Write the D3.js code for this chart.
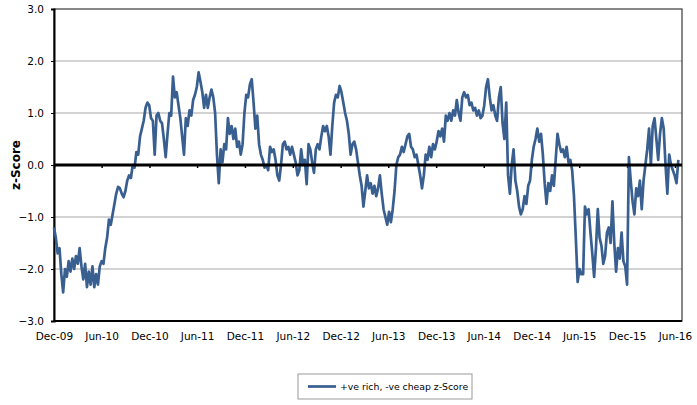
<!DOCTYPE html>
<html>
<head>
<meta charset="utf-8">
<script src="https://cdn.jsdelivr.net/npm/d3@7"></script>
<style>
  html, body { margin: 0; padding: 0; background: #fff; }
  svg { display: block; }
  text { font-family: Tahoma, "DejaVu Sans", Verdana, sans-serif; fill: #000; }
</style>
</head>
<body>
<svg id="chart" width="697" height="405"></svg>
<script>
// ---- Data (weekly z-score readings, starting 2009-12-01) ----
const startDate = "2009-12-01";
const seriesName = "+ve rich, -ve cheap z-Score";
const zScore = [
  // Dec-09 .. Jun-10
  -1.2, -1.4, -1.7, -1.6, -2.1, -2.45, -2.0, -2.15, -1.85, -2.05, -1.8, -2.0, -1.75,
  -1.9, -1.6, -1.95, -2.2, -1.9, -2.35, -2.05, -2.3, -1.95, -2.35, -2.1, -2.3, -1.95,
  // Jun-10 .. Dec-10
  -1.85, -1.9, -1.6, -1.4, -1.05, -1.15, -0.95, -0.75, -0.55, -0.42, -0.45, -0.55, -0.62,
  -0.5, -0.3, -0.2, -0.25, 0.0, -0.05, 0.25, 0.2, 0.55, 0.7, 0.85, 1.1, 1.2,
  // Dec-10 .. Jun-11
  1.15, 0.9, 0.85, 0.2, 0.95, 1.0, 0.85, 0.8, 0.5, 0.15, 0.6, 1.0, 0.95,
  1.7, 1.3, 1.4, 1.15, 0.9, 0.55, 0.2, 0.9, 0.75, 1.05, 0.95, 1.25, 1.35,
  // Jun-11 .. Dec-11
  1.5, 1.78, 1.6, 1.4, 1.1, 1.35, 1.1, 1.3, 1.45, 1.3, 1.0, 0.2, -0.35,
  0.3, 0.05, 0.4, 0.3, 0.9, 0.6, 0.75, 0.5, 0.7, 0.35, 0.45, 0.2, 0.4,
  // Dec-11 .. Jun-12
  1.0, 1.35, 1.3, 1.55, 1.65, 1.2, 0.7, 0.95, 0.4, 0.2, 0.1, -0.05, 0.0,
  -0.1, 0.35, 0.25, 0.3, 0.1, -0.2, -0.3, 0.0, 0.4, 0.45, 0.3, 0.35, 0.2,
  // Jun-12 .. Dec-12
  0.35, 0.2, 0.05, -0.2, -0.1, 0.3, 0.0, 0.1, -0.37, 0.4, 0.3, 0.05, -0.15,
  0.3, 0.4, 0.3, 0.55, 0.75, 0.65, 0.75, 0.55, 0.2, 0.75, 1.2, 1.35, 1.3,
  // Dec-12 .. Jun-13
  1.52, 1.4, 1.2, 1.0, 0.85, 0.6, 0.2, 0.4, 0.45, 0.3, 0.05, -0.2, -0.4,
  -0.8, -0.5, -0.2, -0.45, -0.35, -0.55, -0.4, -0.6, -0.45, -0.2, -0.55, -0.85, -1.0,
  // Jun-13 .. Dec-13
  -1.15, -0.9, -1.1, -0.85, -0.5, 0.0, 0.15, 0.2, 0.35, 0.25, 0.4, 0.55, 0.6,
  0.35, 0.3, 0.15, 0.2, 0.0, -0.2, -0.45, -0.2, 0.2, 0.1, 0.35, 0.15, 0.4,
  // Dec-13 .. Jun-14
  0.3, 0.45, 0.65, 0.55, 0.7, 0.45, 0.95, 0.85, 1.0, 0.85, 1.05, 0.95, 1.25,
  1.0, 0.85, 1.3, 1.4, 1.3, 1.35, 1.15, 1.2, 1.05, 1.1, 0.95, 1.05, 0.9,
  // Jun-14 .. Dec-14
  0.95, 1.15, 1.5, 1.65, 1.3, 1.05, 1.15, 0.95, 0.85, 1.3, 1.5, 0.8, 0.5,
  1.2, -0.2, -0.55, 0.0, 0.3, -0.3, -0.5, -0.8, -0.95, -0.85, -0.6, -0.75, -0.4,
  // Dec-14 .. Jun-15
  -0.3, 0.1, 0.35, 0.5, 0.7, 0.45, 0.6, 0.2, -0.35, -0.75, -0.35, -0.5, -0.2,
  -0.4, 0.1, 0.6, 0.4, 0.25, 0.3, 0.15, 0.35, 0.05, 0.1, -0.1, -0.6, -1.4,
  // Jun-15 .. Dec-15
  -2.25, -2.0, -2.1, -2.1, -0.8, -0.95, -0.85, -1.3, -1.7, -2.15, -1.6, -0.85, -1.4,
  -1.55, -1.9, -1.75, -1.3, -1.2, -1.5, -0.7, -1.5, -2.05, -1.6, -1.8, -1.3, -1.85,
  // Dec-15 .. Jun-16
  -1.95, -2.3, 0.15, -0.3, -0.7, -0.95, -0.45, -0.6, -0.3, -0.85, -0.3, 0.0, 0.3,
  0.7, 0.0, 0.75, 0.9, 0.5, 0.1, 0.6, 0.9, 0.7, 0.0, -0.55, 0.2, 0.0,
  // Jun-16 ..
  -0.1, -0.2, -0.35, 0.1
];
const xTickLabels = ["Dec-09","Jun-10","Dec-10","Jun-11","Dec-11","Jun-12","Dec-12",
                     "Jun-13","Dec-13","Jun-14","Dec-14","Jun-15","Dec-15","Jun-16"];
const yTicks = [-3, -2, -1, 0, 1, 2, 3];
const yTitle = "z-Score";

// ---- Build ----
(function () {
const parse = d3.timeParse("%Y-%m-%d");
const t0 = parse(startDate);
const data = zScore.map((v, i) => ({ date: d3.timeDay.offset(t0, i * 7), value: v }));
const tickDates = xTickLabels.map(s => d3.timeParse("%b-%y")(s));

const pL = 54, pR = 682, pT = 9, pB = 321;
const x = d3.scaleTime().domain([t0, parse("2016-06-28")]).range([pL, pR]);
const y = d3.scaleLinear().domain([-3, 3]).range([pB, pT]);

const svg = d3.select("#chart");

// gridlines
svg.append("g").selectAll("line")
  .data(yTicks.filter(d => d !== 0 && Math.abs(d) !== 3))
  .join("line")
  .attr("x1", pL).attr("x2", pR)
  .attr("y1", d => y(d)).attr("y2", d => y(d))
  .attr("stroke", "#a6a6a6").attr("stroke-width", 1);

// plot border
svg.append("rect")
  .attr("x", pL).attr("y", pT)
  .attr("width", pR - pL).attr("height", pB - pT)
  .attr("fill", "none").attr("stroke", "#3a3a3a").attr("stroke-width", 1.2);

// y axis (left)
const yAxis = d3.axisLeft(y).tickValues(yTicks).tickFormat(d3.format(".1f")).tickSize(3).tickPadding(7);
const gy = svg.append("g").attr("transform", `translate(${pL},0)`).call(yAxis);
gy.select(".domain").attr("stroke", "#000").attr("stroke-width", 2);
gy.selectAll(".tick line").attr("stroke", "#000");
gy.selectAll("text").style("font-size", "10.5px").style("font-family", 'Tahoma, "DejaVu Sans", sans-serif').attr("fill", "#000");

// bottom border line
svg.append("line").attr("x1", pL).attr("x2", pR).attr("y1", pB).attr("y2", pB)
  .attr("stroke", "#000").attr("stroke-width", 2);

// x axis on the zero line (ticks only), labels at the bottom
const xAxisZero = d3.axisBottom(x).tickValues(tickDates).tickFormat("").tickSize(3).tickSizeOuter(0);
const gx0 = svg.append("g").attr("transform", `translate(0,${y(0)})`).call(xAxisZero);
gx0.select(".domain").remove();
gx0.selectAll(".tick line").attr("stroke", "#000").attr("stroke-width", 1.5);

const xAxisLabels = d3.axisBottom(x).tickValues(tickDates)
  .tickFormat((d, i) => xTickLabels[i]).tickSize(0).tickPadding(12);
const gx = svg.append("g").attr("transform", `translate(0,${pB})`).call(xAxisLabels);
gx.select(".domain").remove();
gx.selectAll("text").style("font-size", "10.5px").style("font-family", 'Tahoma, "DejaVu Sans", sans-serif').attr("fill", "#000");

// series line
const line = d3.line().x(d => x(d.date)).y(d => y(d.value));
svg.append("path").datum(data)
  .attr("d", line)
  .attr("fill", "none").attr("stroke", "#395f90").attr("stroke-width", 2.7)
  .attr("stroke-linejoin", "round");

// zero line
svg.append("line").attr("x1", pL).attr("x2", pR).attr("y1", y(0)).attr("y2", y(0))
  .attr("stroke", "#000").attr("stroke-width", 3);

// y title
svg.append("text")
  .attr("transform", `translate(20,${y(0)}) rotate(-90)`)
  .attr("text-anchor", "middle")
  .style("font-size", "12px").style("font-weight", "bold")
  .text(yTitle);

// legend
const lg = svg.append("g").attr("transform", "translate(298,374)");
lg.append("rect").attr("width", 174).attr("height", 25)
  .attr("fill", "#fff").attr("stroke", "#9a9a9a").attr("stroke-width", 1);
lg.append("line").attr("x1", 10).attr("x2", 38).attr("y1", 12.5).attr("y2", 12.5)
  .attr("stroke", "#395f90").attr("stroke-width", 2.7);
lg.append("text").attr("x", 42).attr("y", 16)
  .style("font-size", "9.3px").text(seriesName);
})();
</script>
</body>
</html>
